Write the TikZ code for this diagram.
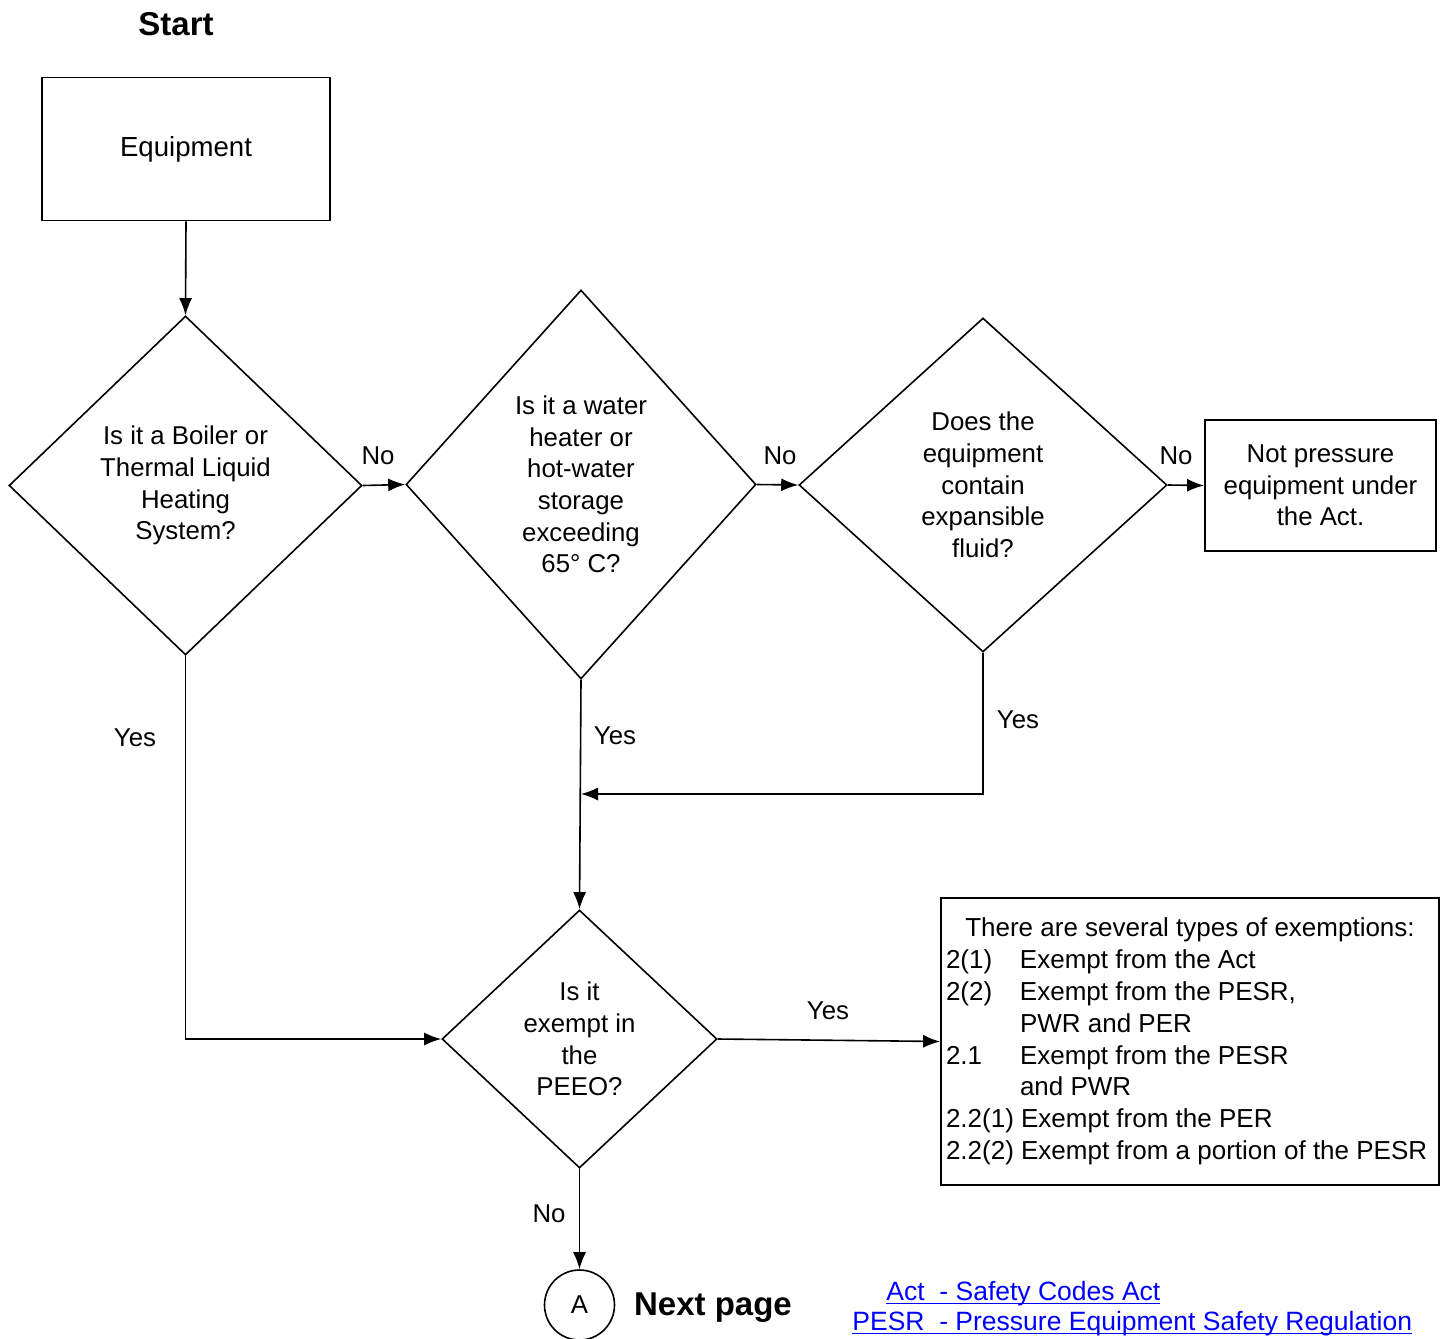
\documentclass[tikz,border=0pt]{standalone}
\usepackage{fontspec}
\setmainfont{Liberation Sans}
\usetikzlibrary{shapes.geometric,arrows.meta}
\definecolor{linkblue}{RGB}{0,0,255}
\newcommand{\exitem}[2]{\makebox[37pt][l]{#1}#2}
\newlength{\linkwd}
\newcommand{\linkul}[1]{\settowidth{\linkwd}{#1}\rlap{\rule[-1.6pt]{\linkwd}{0.6pt}}#1}

\begin{document}
\begin{tikzpicture}[x=0.5pt,y=-0.5pt,
    font=\fontsize{12.9}{15.85}\selectfont,
    box/.style={draw,rectangle,line width=0.9pt},
    decision/.style={draw,diamond,inner sep=0pt,line width=0.8pt},
    flow/.style={-{Latex[length=8.5pt,width=6.5pt]},line width=0.8pt},
    heading/.style={font=\bfseries\fontsize{16.5}{19}\selectfont},
    link/.style={anchor=west,inner sep=0pt,text=linkblue,font=\fontsize{13.25}{16}\selectfont}]
  \useasboundingbox (0,0) rectangle (1445,1338);

  % boxes and questions
  \node[heading] (start) at (176,24) {Start};
  \node[box,minimum width=144pt,minimum height=71.5pt,font=\fontsize{13.8}{16}\selectfont] (equip) at (186,149) {Equipment};
  \node[decision,minimum width=176.5pt,minimum height=169.5pt,
    label={[align=center]center:Is it a Boiler or\\Thermal Liquid\\Heating\\System?}] (boiler) at (185.5,485.5) {};
  \node[decision,minimum width=175pt,minimum height=194.5pt,
    label={[align=center]center:Is it a water\\heater or\\hot-water\\storage\\exceeding\\65\textdegree\ C?}] (heater) at (581,484.5) {};
  \node[decision,minimum width=184pt,minimum height=167pt,
    label={[align=center]center:Does the\\equipment\\contain\\expansible\\fluid?}] (fluid) at (983,485) {};
  \node[box,minimum width=115.5pt,minimum height=65.5pt,align=center] (notpe) at (1320.5,485.5) {Not pressure\\equipment under\\the Act.};
  \node[decision,minimum width=137.5pt,minimum height=129pt,
    label={[align=center]center:Is it\\exempt in\\the\\PEEO?}] (peeo) at (579.5,1039) {};
  \node[box,minimum width=249pt,minimum height=143.5pt,inner xsep=2.5pt,
    align=left,font=\fontsize{13}{15.9}\selectfont] (exempt) at (1190,1041.5) {%
    \makebox[244pt]{There are several types of exemptions:}\\
    \exitem{2(1)}{Exempt from the Act}\\
    \exitem{2(2)}{Exempt from the PESR,}\\
    \exitem{}{PWR and PER}\\
    \exitem{2.1}{Exempt from the PESR}\\
    \exitem{}{and PWR}\\
    2.2(1) Exempt from the PER\\
    2.2(2) Exempt from a portion of the PESR};
  \node[draw,circle,minimum size=35pt,inner sep=0pt,line width=0.8pt] (nextA) at (579.5,1305) {A};
  \node[heading] (nextlbl) at (713,1308) {Next page};

  % answers
  \node (no1) at (378,456) {No};
  \node (no2) at (780,456) {No};
  \node (no3) at (1176,456) {No};
  \node (yes1) at (135,738) {Yes};
  \node (yes2) at (615,736) {Yes};
  \node (yes3) at (1018,720) {Yes};
  \node (yes4) at (828,1011) {Yes};
  \node (no4) at (549,1214) {No};

  % connectors
  \coordinate (merge) at (581,794);
  \begin{scope}[flow]
    \draw (equip.south) -- (boiler.north);
    \draw (boiler.east) -- (heater.west);
    \draw (heater.east) -- (fluid.west);
    \draw (fluid.east) -- (notpe.west);
    \draw (boiler.south) |- (peeo.west);
    \draw (heater.south) -- (peeo.north);
    \draw (fluid.south) |- (merge);
    \draw (peeo.east) -- (exempt.west);
    \draw (peeo.south) -- (nextA.north);
  \end{scope}

  % abbreviations
  \node[link] (actlink) at (886,1294) {\linkul{Act\ \ - Safety Codes Act}};
  \node[link] (pesrlink) at (852,1324) {\linkul{PESR\ \ - Pressure Equipment Safety Regulation}};
\end{tikzpicture}
\end{document}
